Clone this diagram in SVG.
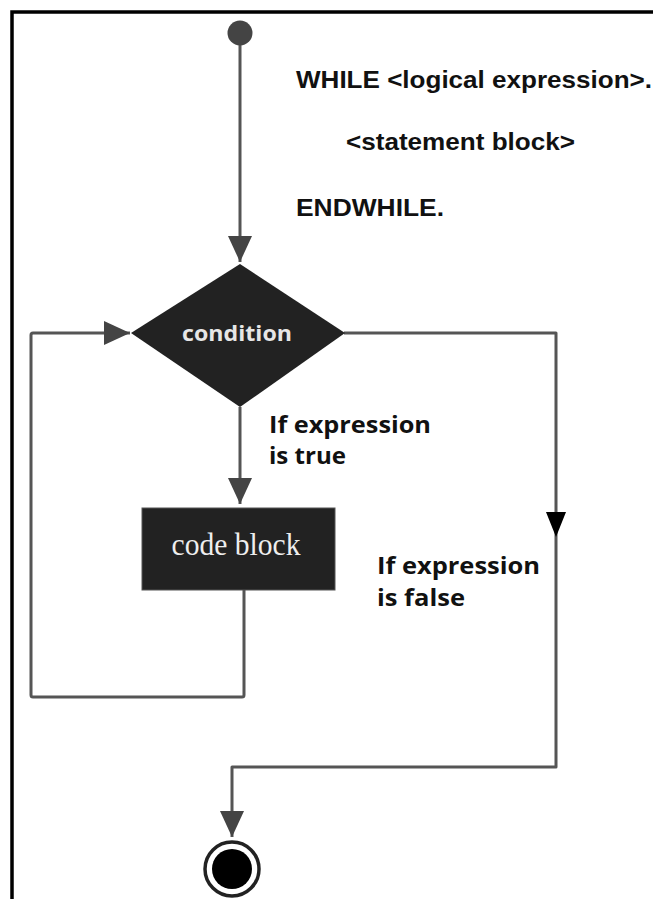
<svg xmlns="http://www.w3.org/2000/svg" width="653" height="899" viewBox="0 0 653 899">
  <style>
    .line { fill: none; stroke: #555; stroke-width: 3; stroke-linejoin: round; }
    .hdr { font-family: "Liberation Sans", Arial, sans-serif; font-weight: bold; font-size: 24px; fill: #111; }
    .lbl { font-family: "Open Sans", "Liberation Sans", sans-serif; font-weight: bold; font-size: 24px; fill: #111; }
    .node-dark { fill: #222; }
  </style>
  <defs>
    <marker id="arr" markerUnits="userSpaceOnUse" viewBox="0 0 26 24" refX="26" refY="12" markerWidth="26" markerHeight="24" orient="auto">
      <path d="M0,0 L26,12 L0,24 Z" fill="#444"/>
    </marker>
    <marker id="arrBlack" markerUnits="userSpaceOnUse" viewBox="0 0 25 20" refX="25" refY="10" markerWidth="25" markerHeight="20" orient="auto">
      <path d="M0,0 L25,10 L0,20 Z" fill="#000"/>
    </marker>
  </defs>

  <rect width="653" height="899" fill="#fff"/>
  <!-- frame -->
  <path d="M12,899 V12 H653" fill="none" stroke="#000" stroke-width="3.5"/>

  <!-- pseudo code text -->
  <g id="code-text">
    <text class="hdr" x="296" y="88" textLength="356" lengthAdjust="spacingAndGlyphs">WHILE &lt;logical expression&gt;.</text>
    <text class="hdr" x="346" y="150" textLength="229" lengthAdjust="spacingAndGlyphs">&lt;statement block&gt;</text>
    <text class="hdr" x="296" y="216" textLength="148" lengthAdjust="spacingAndGlyphs">ENDWHILE.</text>
  </g>

  <g id="connectors">
    <path class="line" d="M240,45 V262" marker-end="url(#arr)"/>
    <path class="line" d="M240,407 V504" marker-end="url(#arr)"/>
    <path class="line" d="M244,590 V695 Q244,697 242,697 H33 Q31,697 31,695 V335 Q31,333 33,333 H130" marker-end="url(#arr)"/>
    <path class="line" d="M344,333 H556 V537" marker-end="url(#arrBlack)"/>
    <path class="line" d="M556,537 V767 H232 V837" marker-end="url(#arr)"/>
  </g>

  <g id="start">
    <circle cx="240" cy="33" r="12.5" fill="#444"/>
  </g>

  <g id="condition">
    <polygon class="node-dark" points="240,264 345,333 240,407 131,333"/>
    <text x="237" y="341" text-anchor="middle" font-family="Open Sans, Liberation Sans, sans-serif" font-weight="bold" font-size="21" fill="#e6e6e6" textLength="110" lengthAdjust="spacingAndGlyphs">condition</text>
  </g>

  <g id="code-block">
    <rect class="node-dark" x="142" y="508" width="193" height="82" stroke="#555" stroke-width="1"/>
    <text x="236" y="555" text-anchor="middle" font-family="Liberation Serif, serif" font-size="31" fill="#eee" textLength="129" lengthAdjust="spacingAndGlyphs">code block</text>
  </g>

  <g id="label-true">
    <text class="lbl" x="269" y="433" textLength="162" lengthAdjust="spacingAndGlyphs">If expression</text>
    <text class="lbl" x="269" y="464" textLength="77" lengthAdjust="spacingAndGlyphs">is true</text>
  </g>

  <g id="label-false">
    <text class="lbl" x="377" y="574" textLength="163" lengthAdjust="spacingAndGlyphs">If expression</text>
    <text class="lbl" x="377" y="606" textLength="88" lengthAdjust="spacingAndGlyphs">is false</text>
  </g>

  <g id="end">
    <circle cx="232" cy="869" r="27" fill="#fff" stroke="#222" stroke-width="3.5"/>
    <circle cx="232" cy="869" r="20" fill="#000"/>
  </g>
</svg>
